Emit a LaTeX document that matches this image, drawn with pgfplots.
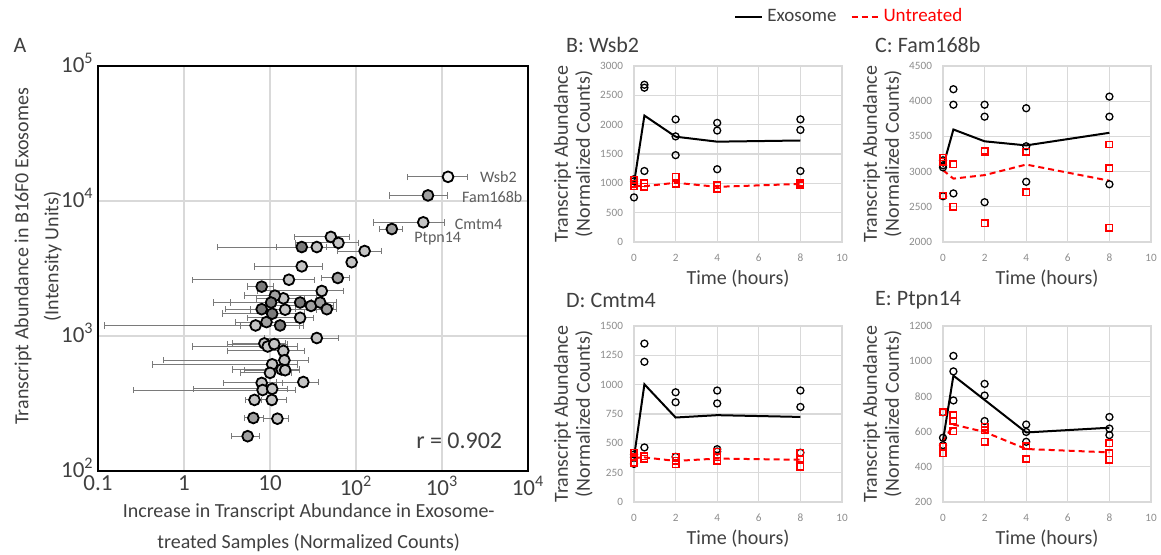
\documentclass[border=0pt]{standalone}
\usepackage{pgfplots}
\pgfplotsset{compat=1.18}
\usepackage{pgfplotstable}
\usepackage{fontspec}
\setmainfont{Carlito}
\definecolor{txt}{HTML}{404040}
\definecolor{tickc}{HTML}{8C8C8C}
\definecolor{gridc}{HTML}{D9D9D9}
\definecolor{errc}{HTML}{7A7A7A}
\definecolor{lgt}{HTML}{C4C4C4}
\definecolor{mid}{HTML}{A0A0A0}
\definecolor{drk}{HTML}{7A7A7A}

% panel A: x, y, x error minus (em), x error plus (ep)
\pgfplotstableread{
x y em ep
605 6950 445 465
51 5420 31.8 33
62.5 4890 42.5 44.5
35 4560 23 27.5
126 4260 65 74
89 3520 9 11
23.4 3280 16.8 17.2
16.6 2610 15.36 16.3
40 2155 32.8 31.5
14.3 1900 7.3 10.7
15 1566 9 20
22.4 1364 16.9 9.6
6.8 1197 6.68 17.7
35 966 26.4 27.5
8.6 881 4.9 6.4
9.4 836 8.14 11.6
11.2 871 8 4.8
14.3 776 11.1 10.7
14.7 661 14.13 13.3
10.6 617 10.17 10.4
13.7 565 10 8.3
15 558 10 7
10 533 5.5 8
8 449 5.1 6
24.4 456 12.4 12.6
8.2 398 7.94 11.8
10.6 406 9.3 5.4
6.6 336 1.4 1.4
10.5 336 2.5 5.1
12.2 244 3.7 4.1
}\ptsLight
\pgfplotstableread{
x y em ep
687 11000 442 463
261 6200 75 86
61.4 2690 21.4 23.6
11.4 1990 6.4 23.6
30 1670 20 25
38.3 1770 23.3 21.7
45.8 1580 25.8 14.2
9.1 1268 5.1 12.9
6.4 247 1.4 2.1
5.5 181 1.9 2.0
}\ptsMid
\pgfplotstableread{
x y em ep
23.4 4560 20.94 21.6
8.0 2320 2.5 2.9
22.4 1770 20.2 37.6
10.3 1770 6.8 19.7
8 1580 5 12
10.6 1463 7.8 14.4
13.1 1197 8.6 8.9
}\ptsDark
\pgfplotstableread{
x y em ep
1175 15100 780 825
}\ptsTop

\pgfplotsset{
  errs/.style={only marks, mark=*, mark size=2.7pt,
    mark options={draw=black, line width=0.9pt, fill=#1},
    error bars/.cd, x dir=both, x explicit,
    error bar style={errc, line width=0.5pt},
    error mark options={errc, rotate=90, mark size=1.6pt, line width=0.5pt}},
  small/.style={scale only axis, width=104pt, height=88pt,
    xmin=0, xmax=10, xtick={0,2,...,10},
    grid=major, grid style={gridc, line width=0.6pt},
    axis line style={gridc, line width=0.6pt},
    major tick length=0, clip=false,
    tick label style={font=\fontsize{5.6}{6}\selectfont, text=tickc},
    xticklabel style={yshift=-2.5pt}, yticklabel style={xshift=-2pt},
    /pgf/number format/assume math mode=true,
    /pgf/number format/1000 sep={},
    xlabel={Time (hours)},
    ylabel={Transcript Abundance\\(Normalized Counts)},
    label style={font=\fontsize{10}{11}\selectfont, text=txt, align=center},
    xlabel style={at={(axis description cs:0.5,-0.12)}, anchor=north},
    ylabel style={at={(axis description cs:-0.165,0.5)}, anchor=south}},
  exo/.style={black, line width=1pt, mark=none},
  unt/.style={red, line width=1pt, dash pattern=on 3pt off 2pt, mark=none},
  exop/.style={black, only marks, mark=o, mark size=1.75pt,
    mark options={black, line width=0.65pt}, forget plot},
  untp/.style={red, only marks, mark=square, mark size=1.6pt,
    mark options={red, line width=0.75pt}, forget plot},
}
\tikzset{ptitle/.style={font=\fontsize{11}{12}\selectfont, text=txt, anchor=west}}

\begin{document}
\begin{tikzpicture}
\useasboundingbox (0,0) rectangle (580.5pt,277.5pt);

\node[font=\fontsize{11}{12}\selectfont, text=txt] at (10pt,255pt) {A};

% ---- A: scatter
\begin{axis}[
  scale only axis, at={(49pt,42pt)}, anchor=south west,
  width=215pt, height=202.5pt,
  xmode=log, ymode=log,
  xmin=0.1, xmax=10000, ymin=100, ymax=100000,
  xtick={0.1,1,10,100,1000,10000},
  xticklabels={0.1,1,10,10\textsuperscript{2},10\textsuperscript{3},10\textsuperscript{4}},
  ytick={100,1000,10000,100000},
  yticklabels={10\textsuperscript{2},10\textsuperscript{3},10\textsuperscript{4},10\textsuperscript{5}},
  minor xtick={}, minor ytick={},
  major tick length=0, minor tick length=0,
  grid=major, grid style={gridc, line width=0.8pt},
  axis line style={black, line width=0.9pt},
  tick label style={font=\fontsize{11.5}{12}\selectfont, text=txt},
  xticklabel style={yshift=1pt},
  yticklabel style={yshift=1.5pt, inner sep=2pt},
  xlabel={Increase in Transcript Abundance in Exosome-\\treated Samples (Normalized Counts)},
  ylabel={Transcript Abundance in B16F0 Exosomes\\[2pt](Intensity Units)},
  xlabel style={font=\fontsize{10}{15.5}\selectfont, text=txt, align=center,
    at={(axis description cs:0.49,-0.064)}, anchor=north},
  ylabel style={font=\fontsize{10}{13}\selectfont, text=txt, align=center,
    at={(axis description cs:-0.068,0.53)}, anchor=south},
]
\addplot[errs=lgt] table[x=x, y=y, x error minus=em, x error plus=ep] {\ptsLight};
\addplot[errs=mid] table[x=x, y=y, x error minus=em, x error plus=ep] {\ptsMid};
\addplot[errs=drk] table[x=x, y=y, x error minus=em, x error plus=ep] {\ptsDark};
\addplot[errs=gray!12] table[x=x, y=y, x error minus=em, x error plus=ep] {\ptsTop};
\node[anchor=west, font=\fontsize{8}{9}\selectfont, text=txt!85] at (axis cs:2300,15000) {Wsb2};
\node[anchor=west, font=\fontsize{8}{9}\selectfont, text=txt!85] at (axis cs:1420,10700) {Fam168b};
\node[anchor=west, font=\fontsize{8}{9}\selectfont, text=txt!85] at (axis cs:1170,6760) {Cmtm4};
\node[anchor=west, font=\fontsize{8}{9}\selectfont, text=txt!85] at (axis cs:395,5300) {Ptpn14};
\node[font=\fontsize{12}{13}\selectfont, text=txt] at (rel axis cs:0.84,0.075) {r = 0.902};
\end{axis}

% ---- B: Wsb2
\begin{axis}[small, at={(317pt,156.5pt)}, anchor=south west,
  ymin=0, ymax=3000, ytick={0,500,...,3000},
  legend columns=2,
  legend style={at={(1.04,1.28)}, anchor=center, draw=none, fill=none,
    font=\fontsize{9.5}{10}\selectfont, text=txt,
    /tikz/every even column/.append style={column sep=5pt}},
  legend image code/.code={\draw[#1] (0pt,0pt) -- (13.5pt,0pt);},
]
\addplot[exop] coordinates {(0,1070)(0,1035)(0,760)(0.5,2680)(0.5,2630)(0.5,1210)(2,2090)(2,1800)(2,1480)(4,2030)(4,1900)(4,1240)(8,2090)(8,1910)(8,1210)};
\addplot[untp] coordinates {(0,1060)(0,990)(0,950)(0.5,1000)(0.5,940)(2,1110)(2,1000)(2,980)(4,970)(4,910)(8,1010)(8,990)(8,970)};
\addplot[exo] coordinates {(0,1000)(0.5,2155)(2,1795)(4,1710)(8,1730)};
\addlegendentry{Exosome}
\addplot[unt] coordinates {(0,960)(0.5,950)(2,1010)(4,940)(8,990)};
\addlegendentry{\textcolor{red}{Untreated}}
\node[ptitle] at (rel axis cs:-0.36,1.12) {B: Wsb2};
\end{axis}

% ---- C: Fam168b
\begin{axis}[small, at={(471.5pt,156.5pt)}, anchor=south west,
  ymin=2000, ymax=4500, ytick={2000,2500,...,4500}]
\addplot[exop] coordinates {(0,3160)(0,3090)(0,3060)(0,2650)(0.5,4170)(0.5,3950)(0.5,2690)(2,3950)(2,3780)(2,2565)(4,3900)(4,3360)(4,2855)(8,4065)(8,3780)(8,2820)};
\addplot[untp] coordinates {(0,3200)(0,3140)(0,2660)(0.5,3105)(0.5,2500)(2,3300)(2,3280)(2,2265)(4,3280)(4,2705)(8,3385)(8,3050)(8,2205)};
\addplot[exo] coordinates {(0,3070)(0.5,3598)(2,3430)(4,3372)(8,3551)};
\addplot[unt] coordinates {(0,3020)(0.5,2900)(2,2950)(4,3100)(8,2870)};
\node[ptitle] at (rel axis cs:-0.36,1.12) {C: Fam168b};
\end{axis}

% ---- D: Cmtm4
\begin{axis}[small, at={(317pt,26.5pt)}, anchor=south west,
  ymin=0, ymax=1500, ytick={0,250,...,1500}]
\addplot[exop] coordinates {(0,405)(0,380)(0,325)(0.5,1350)(0.5,1195)(0.5,465)(2,935)(2,850)(2,385)(4,950)(4,840)(4,450)(4,430)(8,950)(8,810)(8,420)};
\addplot[untp] coordinates {(0,420)(0,380)(0,335)(0.5,390)(0.5,370)(2,385)(2,350)(2,320)(4,430)(4,380)(4,350)(8,420)(8,370)(8,300)};
\addplot[exo] coordinates {(0,380)(0.5,1003)(2,720)(4,740)(8,725)};
\addplot[unt] coordinates {(0,375)(0.5,380)(2,350)(4,370)(8,360)};
\node[ptitle] at (rel axis cs:-0.36,1.145) {D: Cmtm4};
\end{axis}

% ---- E: Ptpn14
\begin{axis}[small, at={(471.5pt,26.5pt)}, anchor=south west,
  ymin=200, ymax=1200, ytick={200,400,...,1200}]
\addplot[exop] coordinates {(0,710)(0,565)(0,523)(0.5,1030)(0.5,942)(0.5,777)(2,871)(2,805)(2,660)(4,640)(4,598)(4,542)(8,683)(8,617)(8,580)};
\addplot[untp] coordinates {(0,711)(0,514)(0,476)(0.5,692)(0.5,660)(0.5,602)(2,627)(2,608)(2,542)(4,518)(4,444)(8,533)(8,476)(8,439)};
\addplot[exo] coordinates {(0,550)(0.5,918)(2,780)(4,595)(8,622)};
\addplot[unt] coordinates {(0,540)(0.5,640)(2,598)(4,501)(8,482)};
\node[ptitle] at (rel axis cs:-0.36,1.145) {E: Ptpn14};
\end{axis}
\end{tikzpicture}
\end{document}
